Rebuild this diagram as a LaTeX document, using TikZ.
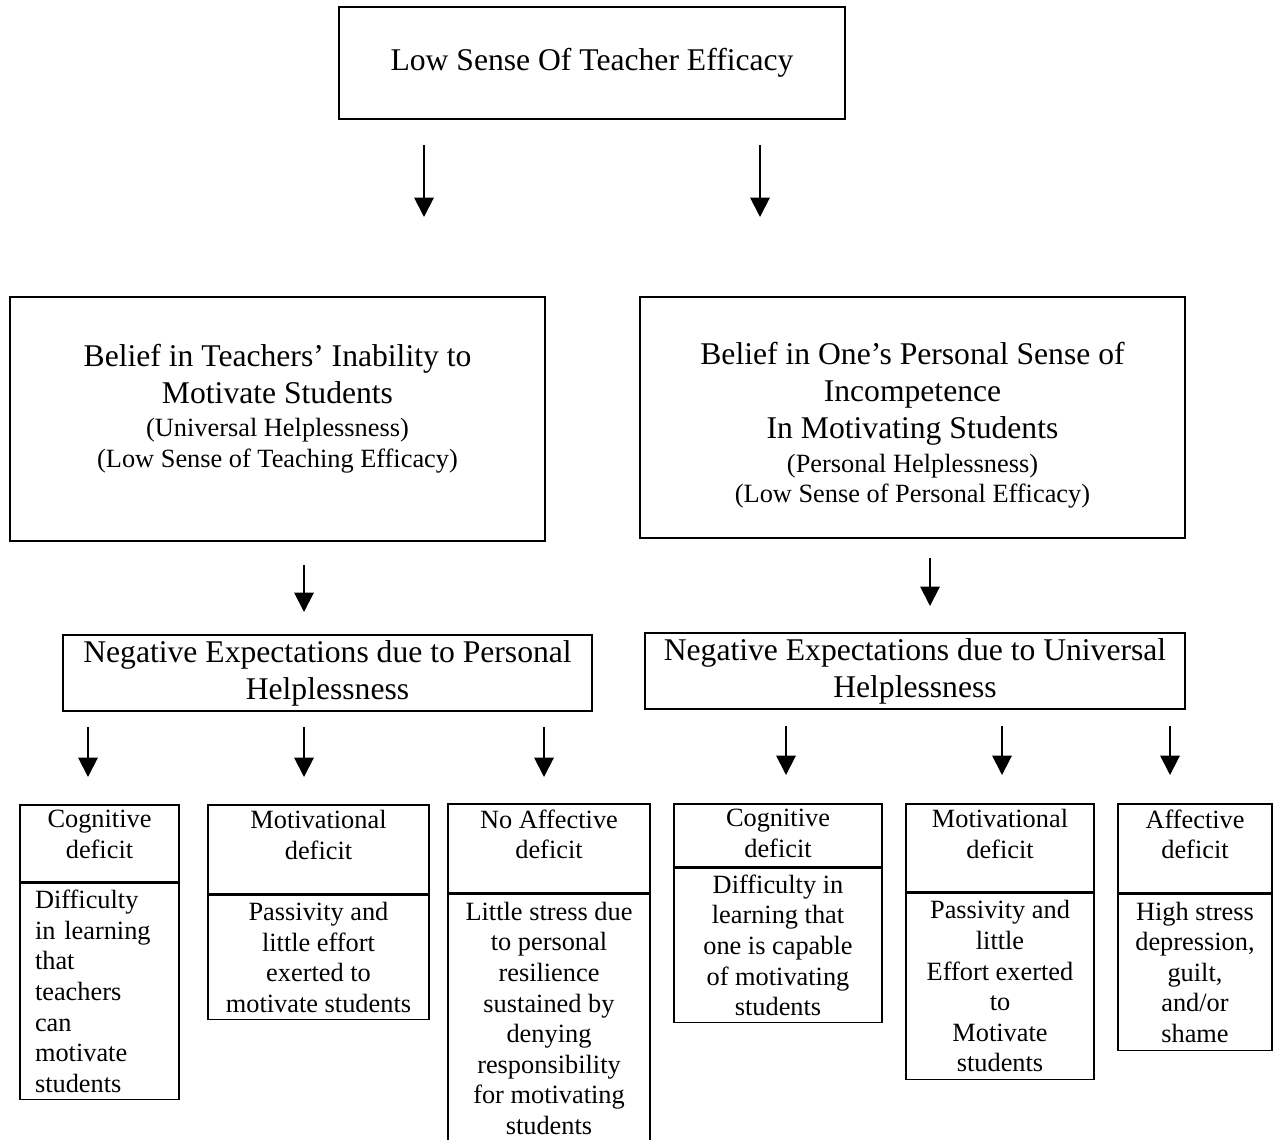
\documentclass[tikz,border=0pt]{standalone}
\usepackage{fontspec}
\setmainfont{Liberation Serif}
\usepackage{tikz}
\usetikzlibrary{positioning,arrows.meta}
\tikzset{
  >={Triangle[length=11pt,width=11pt]},
  bx/.style={draw,line width=0.9pt,inner sep=1pt,align=center},
  bw/.style={minimum width=#1*0.02cm},
  bh/.style={minimum height=#1*0.02cm},
  big/.style={font=\fontsize{18}{21}\selectfont},
  sml/.style={font=\fontsize{15}{17.4}\selectfont},
  hd/.style={sml,align=center,inner sep=3.5pt},
  arr/.style={->,line width=1.1pt},
}

\begin{document}
\begin{tikzpicture}[x=0.02cm,y=-0.02cm]
  \useasboundingbox (0,0) rectangle (1280,1139);
  % top row
  \node[bx,big,bw=506,bh=112] (top) at (592,63) {Low Sense Of Teacher Efficacy};
  \node[bx,bw=535,bh=244] (bl) at (277.5,419) {};
  \node[big,align=center,yshift=6pt] (blt) at (bl.center)
    {Belief in Teachers' Inability to\\Motivate Students\\[-2pt]
     {\fontsize{15}{17.6}\selectfont (Universal Helplessness)}\\[-3.4pt]
     {\fontsize{15}{17.6}\selectfont (Low Sense of Teaching Efficacy)}};
  \node[bx,bw=545,bh=241] (br) at (912.5,417.5) {};
  \node[big,align=center,yshift=-4.5pt] (brt) at (br.center)
    {Belief in One's Personal Sense of\\Incompetence\\In Motivating Students\\[-2pt]
     {\fontsize{15}{17.6}\selectfont (Personal Helplessness)}\\[-3.6pt]
     {\fontsize{15}{17.6}\selectfont (Low Sense of Personal Efficacy)}};
  \node[bx,big,bw=529,bh=76] (nl) at (327.5,673) {Negative Expectations due to Personal\\Helplessness};
  \node[bx,big,bw=540,bh=76] (nr) at (915,671) {Negative Expectations due to Universal\\Helplessness};

  % deficits, personal side
  \node[bx,bw=159,bh=77,anchor=north] (cg1) at (99.5,804) {};
  \node[hd,below=0pt of cg1.north] (cg1t) {Cognitive\\deficit};
  \node[bx,sml,bw=159,bh=216,below=0pt of cg1,text width=2.58cm,align=left] (cg1b)
    {Difficulty\\in learning\\that\\teachers\\can\\motivate\\students};
  \node[bx,bw=221,bh=89,anchor=north] (mt1) at (318.5,804) {};
  \node[hd,below=0pt of mt1.north] (mt1t) {Motivational\\deficit};
  \node[bx,sml,bw=221,bh=124,below=0pt of mt1] (mt1b)
    {Passivity and\\little effort\\exerted to\\motivate students};
  \node[bx,bw=202,bh=89,anchor=north] (af1) at (549,803) {};
  \node[hd,below=0pt of af1.north] (af1t) {No Affective\\deficit};
  \node[bx,sml,bw=202,bh=248,below=0pt of af1] (af1b)
    {Little stress due\\to personal\\resilience\\sustained by\\denying\\responsibility\\for motivating\\students};

  % deficits, universal side
  \node[bx,bw=208,bh=63,anchor=north] (cg2) at (778,803) {};
  \node[hd,below=0pt of cg2.north] (cg2t) {Cognitive\\deficit};
  \node[bx,sml,bw=208,bh=154,below=0pt of cg2] (cg2b)
    {Difficulty in\\learning that\\one is capable\\of motivating\\students};
  \node[bx,bw=188,bh=88,anchor=north] (mt2) at (1000,803) {};
  \node[hd,below=0pt of mt2.north] (mt2t) {Motivational\\deficit};
  \node[bx,sml,bw=188,bh=186,below=0pt of mt2] (mt2b)
    {Passivity and\\little\\Effort exerted\\to\\Motivate\\students};
  \node[bx,bw=154,bh=89,anchor=north] (af2) at (1195,803) {};
  \node[hd,below=0pt of af2.north] (af2t) {Affective\\deficit};
  \node[bx,sml,bw=154,bh=156,below=0pt of af2] (af2b)
    {High stress\\depression,\\guilt,\\and/or\\shame};

  % arrow ends
  \coordinate (p1) at (424,145);  \coordinate (q1) at (424,217);
  \coordinate (p2) at (760,145);  \coordinate (q2) at (760,217);
  \coordinate (p3) at (304,565);  \coordinate (q3) at (304,612);
  \coordinate (p4) at (930,558);  \coordinate (q4) at (930,606);
  \coordinate (p5) at (88,727);   \coordinate (q5) at (88,777);
  \coordinate (p6) at (304,727);  \coordinate (q6) at (304,777);
  \coordinate (p7) at (544,727);  \coordinate (q7) at (544,777);
  \coordinate (p8) at (786,726);  \coordinate (q8) at (786,775);
  \coordinate (p9) at (1002,726); \coordinate (q9) at (1002,775);
  \coordinate (p10) at (1170,726); \coordinate (q10) at (1170,775);
  \draw[arr] (p1)--(q1); \draw[arr] (p2)--(q2);
  \draw[arr] (p3)--(q3); \draw[arr] (p4)--(q4);
  \draw[arr] (p5)--(q5); \draw[arr] (p6)--(q6); \draw[arr] (p7)--(q7);
  \draw[arr] (p8)--(q8); \draw[arr] (p9)--(q9); \draw[arr] (p10)--(q10);
\end{tikzpicture}
\end{document}
